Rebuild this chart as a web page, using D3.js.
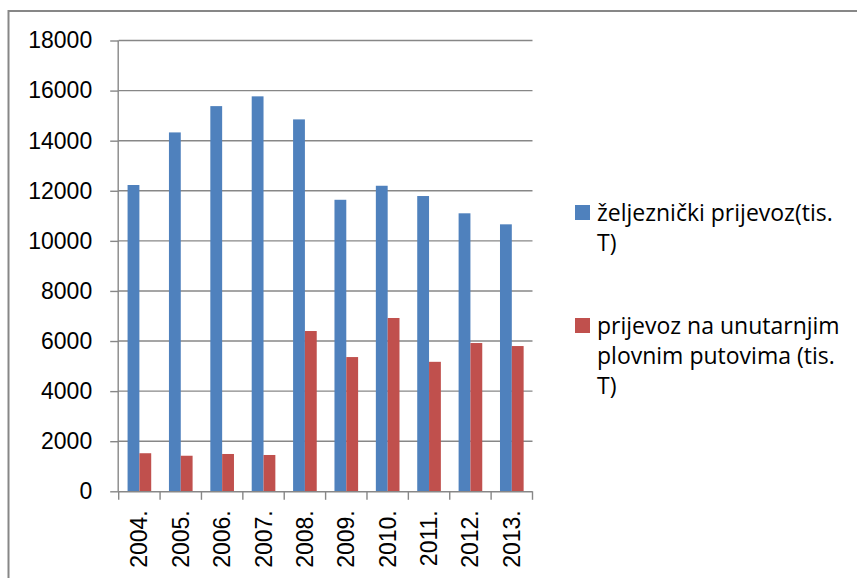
<!DOCTYPE html>
<html lang="hr">
<head>
<meta charset="UTF-8">
<title>Prijevoz</title>
<script src="https://cdn.jsdelivr.net/npm/d3@7"></script>
<style>
  body { margin: 0; background: #fff; }
  text { fill: #000; }
</style>
</head>
<body>
<svg width="857" height="578"></svg>
<script>
    let years = ["2004.", "2005.", "2006.", "2007.", "2008.", "2009.", "2010.", "2011.", "2012.", "2013."];
    let rail = [12230, 14330, 15380, 15770, 14850, 11640, 12200, 11790, 11100, 10660];
    let river = [1520, 1420, 1490, 1450, 6400, 5360, 6920, 5170, 5920, 5800];
    let yTicks = [0, 2000, 4000, 6000, 8000, 10000, 12000, 14000, 16000, 18000];
    let seriesNames = [
        ["željeznički prijevoz(tis.", "T)"],
        ["prijevoz na unutarnjim", "plovnim putovima (tis.", "T)"]
    ];
    let colors = ["#4F81BD", "#C0504D"];

    let svg = d3.select('svg');
    let gridColor = "#878787";

    // outer chart border
    svg.append("rect")
        .attr("x", 8.5).attr("y", 11)
        .attr("width", 860).attr("height", 580)
        .style("fill", "none").style("stroke", gridColor).style("stroke-width", "2px");

    let plotL = 118.7, plotR = 532.5, plotT = 40.5, plotB = 491.3;
    let scaleX = d3.scaleBand().domain(years).range([plotL, plotR]);
    let scaleY = d3.scaleLinear().domain([0, 18000]).range([plotB, plotT]);

    // gridlines
    svg.append("g").selectAll("line")
        .data(yTicks.filter(d => d > 0))
        .join("line")
        .attr("x1", plotL).attr("x2", plotR)
        .attr("y1", d => scaleY(d)).attr("y2", d => scaleY(d))
        .style("stroke", gridColor).style("stroke-width", "1.4px");

    // bars
    let cw = scaleX.bandwidth();
    let bw = cw / 3.5;
    [rail, river].forEach(function (vals, i) {
        svg.append("g").selectAll("rect")
            .data(vals)
            .join("rect")
            .attr("x", (d, j) => scaleX(years[j]) + bw * 0.75 + i * bw)
            .attr("y", d => scaleY(d))
            .attr("width", bw)
            .attr("height", d => plotB - scaleY(d))
            .style("fill", colors[i]);
    });

    // axes
    let yAxis = svg.append("g")
        .attr("transform", "translate(" + plotL + ",0)")
        .call(d3.axisLeft(scaleY).tickValues(yTicks).tickSize(8.5).tickPadding(18).tickFormat(d3.format("d")));
    let xAxis = svg.append("g")
        .attr("transform", "translate(0," + plotB + ")")
        .call(d3.axisBottom(scaleX).tickSize(0).tickFormat(d => d));
    // category boundary ticks
    svg.append("g").selectAll("line")
        .data(d3.range(years.length + 1))
        .join("line")
        .attr("x1", i => plotL + i * cw).attr("x2", i => plotL + i * cw)
        .attr("y1", plotB).attr("y2", plotB + 8.5)
        .style("stroke", gridColor).style("stroke-width", "1.4px");

    [yAxis, xAxis].forEach(function (ax) {
        ax.select(".domain").style("stroke", gridColor).style("stroke-width", "1.4px");
        ax.selectAll(".tick line").style("stroke", gridColor).style("stroke-width", "1.4px");
        ax.selectAll("text").style("font-family", "'Liberation Sans', Arial, sans-serif").style("font-size", "23px").style("fill", "#000");
    });
    yAxis.select(".domain").attr("d", "M" + (-0.5) + "," + plotT + "V" + plotB);
    xAxis.select(".domain").attr("d", "M" + plotL + ",0.5H" + plotR);
    xAxis.selectAll("text")
        .attr("transform", "rotate(-90)")
        .attr("x", -19).attr("y", 0).attr("dy", "0.35em")
        .style("text-anchor", "end");

    // legend
    let legend = svg.append("g");
    let legendTop = [213, 326];
    seriesNames.forEach(function (lines, i) {
        legend.append("rect")
            .attr("x", 575).attr("y", legendTop[i] - 8)
            .attr("width", 15).attr("height", 15)
            .style("fill", colors[i]);
        let t = legend.append("text")
            .attr("x", 597).attr("y", legendTop[i])
            .style("font-family", "'Open Sans', sans-serif")
            .style("font-size", "23px");
        lines.forEach(function (s, k) {
            t.append("tspan").attr("x", 597).attr("dy", k === 0 ? "0.35em" : 30).text(s);
        });
    });
</script>
</body>
</html>
